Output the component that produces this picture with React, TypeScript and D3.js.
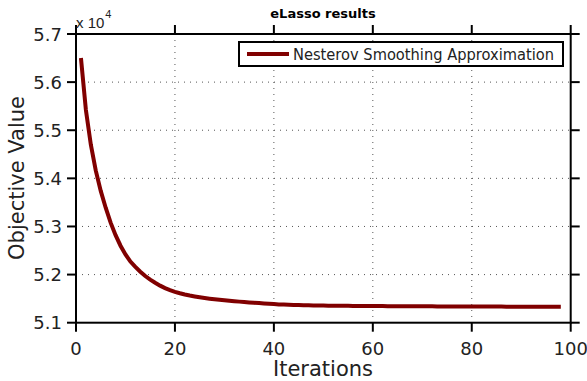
import React from "react";
import * as d3 from "d3";

const iterations: number[] = Array.from({ length: 98 }, (_, i) => i + 1);
const objective: number[] = [
  56500, 55420, 54700, 54160, 53740, 53390, 53080, 52820, 52600, 52420,
  52270, 52160, 52060, 51970, 51895, 51830, 51770, 51720, 51678, 51642,
  51612, 51586, 51564, 51545, 51528, 51513, 51500, 51488, 51477, 51466,
  51456, 51447, 51438, 51430, 51422, 51414, 51407, 51400, 51393, 51387,
  51380, 51376, 51372, 51369, 51366, 51363, 51361, 51359, 51357, 51355,
  51354, 51353, 51352, 51351, 51350, 51349, 51348, 51347, 51347, 51346,
  51345, 51345, 51344, 51344, 51343, 51343, 51342, 51342, 51341, 51341,
  51340, 51340, 51339, 51339, 51338, 51338, 51338, 51337, 51337, 51337,
  51336, 51336, 51336, 51335, 51335, 51335, 51334, 51334, 51334, 51334,
  51333, 51333, 51333, 51333, 51332, 51332, 51332, 51332,
];
const xTicks: number[] = [0, 20, 40, 60, 80, 100];
const yTicks: number[] = [51000, 52000, 53000, 54000, 55000, 56000, 57000];
const yTickLabels: string[] = ["5.1", "5.2", "5.3", "5.4", "5.5", "5.6", "5.7"];
const title = "eLasso results";
const xLabel = "Iterations";
const yLabel = "Objective Value";
const legendLabel = "Nesterov Smoothing Approximation";

export default function App() {
  const W = 587, H = 381;
  const L = 76, R = 570.7, T = 34, B = 322.7;
  const x = d3.scaleLinear().domain([0, 100]).range([L, R]);
  const y = d3.scaleLinear().domain([51000, 57000]).range([B, T]);
  const line = d3
    .line<number>()
    .x((_, i) => x(iterations[i]))
    .y((d) => y(d));
  const font = "'DejaVu Sans', sans-serif";
  const tl = 9;
  return (
    <svg
      width={W}
      height={H}
      style={{ position: "absolute", left: 0, top: 0, background: "#fff" }}
      fontFamily={font}
    >
      <rect x={0} y={0} width={W} height={H} fill="#fff" />
      {/* grid */}
      {xTicks.slice(1, -1).map((t) => (
        <line key={"gx" + t} x1={x(t)} x2={x(t)} y1={T} y2={B} stroke="#555" strokeWidth={1} strokeDasharray="1,5" />
      ))}
      {yTicks.slice(1, -1).map((t) => (
        <line key={"gy" + t} x1={L} x2={R} y1={y(t)} y2={y(t)} stroke="#555" strokeWidth={1} strokeDasharray="1,5" />
      ))}
      {/* data */}
      <path d={line(objective) || ""} fill="none" stroke="#800000" strokeWidth={4} />
      {/* box */}
      <rect x={L} y={T} width={R - L} height={B - T} fill="none" stroke="#000" strokeWidth={2} />
      {/* ticks */}
      {xTicks.map((t) => (
        <g key={"xt" + t}>
          <line x1={x(t)} x2={x(t)} y1={B} y2={B + tl} stroke="#000" strokeWidth={2} />
          <line x1={x(t)} x2={x(t)} y1={T} y2={T - tl} stroke="#000" strokeWidth={2} />
          <text x={x(t)} y={355} textAnchor="middle" fontSize={18} fill="#222">
            {t}
          </text>
        </g>
      ))}
      {yTicks.map((t, i) => (
        <g key={"yt" + t}>
          <line x1={L} x2={L - tl} y1={y(t)} y2={y(t)} stroke="#000" strokeWidth={2} />
          <line x1={R} x2={R + tl} y1={y(t)} y2={y(t)} stroke="#000" strokeWidth={2} />
          <text x={62} y={y(t) + 6.5} textAnchor="end" fontSize={18} fill="#222">
            {yTickLabels[i]}
          </text>
        </g>
      ))}
      {/* exponent */}
      <text x={76} y={28} fontSize={15} fill="#222" fontFamily="'Liberation Sans', sans-serif">
        x 10
        <tspan dx={1} dy={-10} fontSize={11}>
          4
        </tspan>
      </text>
      {/* title */}
      <text x={323} y={18} textAnchor="middle" fontSize={13} fontWeight="bold" fill="#000">
        {title}
      </text>
      {/* axis labels */}
      <text x={323} y={376} textAnchor="middle" fontSize={21} fill="#222">
        {xLabel}
      </text>
      <text
        transform={`translate(24,178) rotate(-90)`}
        textAnchor="middle"
        fontSize={21}
        fill="#222"
      >
        {yLabel}
      </text>
      {/* legend */}
      <rect x={239} y={42} width={324} height={24} fill="#fff" stroke="#000" strokeWidth={2} />
      <line x1={247} x2={289} y1={54} y2={54} stroke="#800000" strokeWidth={4} />
      <text x={293} y={60} fontSize={16} fill="#222" textLength={261} lengthAdjust="spacingAndGlyphs">
        {legendLabel}
      </text>
    </svg>
  );
}
